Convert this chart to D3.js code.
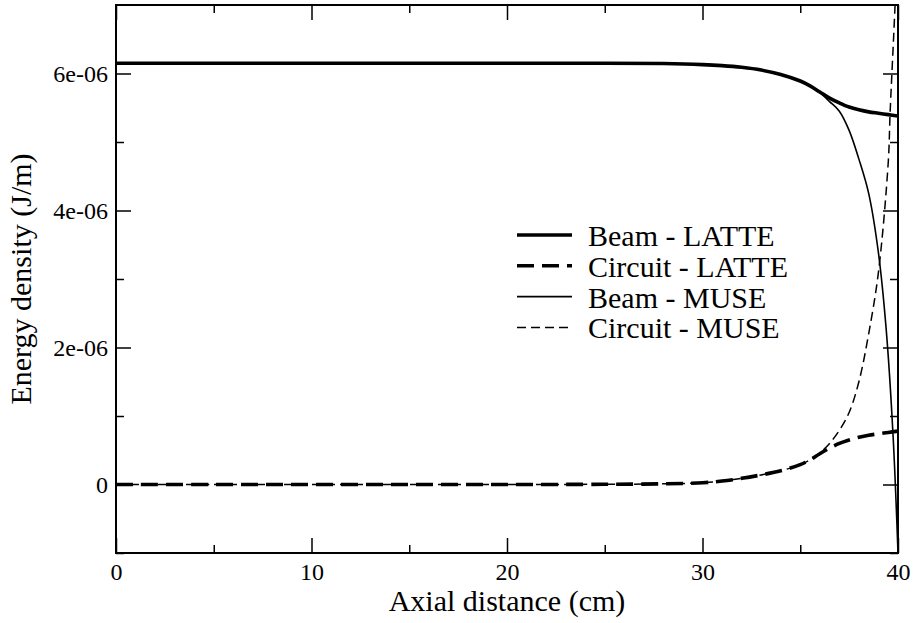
<!DOCTYPE html>
<html>
<head>
<meta charset="utf-8">
<script src="https://cdn.jsdelivr.net/npm/d3@7"></script>
<style>
  html, body { margin: 0; padding: 0; background: #fff; }
  svg { display: block; }
</style>
</head>
<body>
<svg id="chart" width="916" height="623"></svg>
<script>
// ---- data (values in J/m, x in cm) ----
const xBeamLatte = [0, 5, 10, 15, 20, 25, 28, 30, 31, 32, 33, 34, 35, 35.5, 36, 36.5, 37, 37.5, 38, 38.5, 39, 39.5, 40];
const beamLatte  = [6.15, 6.15, 6.15, 6.15, 6.15, 6.15, 6.145, 6.13, 6.115, 6.09, 6.05, 5.985, 5.89, 5.82, 5.73, 5.64, 5.57, 5.51, 5.47, 5.44, 5.42, 5.40, 5.38].map(v => v * 1e-6);

const xCircLatte = [0, 5, 10, 15, 20, 25, 28, 30, 31, 32, 33, 34, 35, 35.5, 36, 36.5, 37, 37.5, 38, 38.5, 39, 39.5, 40];
const circLatte  = [0, 0, 0, 0, 0, 0.003, 0.01, 0.025, 0.05, 0.09, 0.14, 0.2, 0.29, 0.36, 0.45, 0.53, 0.6, 0.65, 0.69, 0.72, 0.74, 0.76, 0.78].map(v => v * 1e-6);

const xBeamMuse  = [0, 5, 10, 15, 20, 25, 28, 30, 31, 32, 33, 34, 35, 35.5, 36, 36.5, 37, 37.5, 38, 38.5, 39, 39.4, 39.75, 40];
const beamMuse   = [6.15, 6.15, 6.15, 6.15, 6.15, 6.15, 6.145, 6.13, 6.115, 6.09, 6.05, 5.985, 5.89, 5.82, 5.72, 5.59, 5.45, 5.17, 4.75, 4.25, 3.38, 2.25, 0.7, -1.0].map(v => v * 1e-6);

const xCircMuse  = [0, 5, 10, 15, 20, 25, 28, 30, 31, 32, 33, 34, 35, 35.5, 36, 36.5, 37, 37.5, 38, 38.5, 39, 39.5, 39.6, 39.85, 40];
const circMuse   = [0, 0, 0, 0, 0, 0.003, 0.01, 0.025, 0.05, 0.09, 0.14, 0.2, 0.29, 0.36, 0.46, 0.6, 0.79, 1.05, 1.5, 2.2, 3.1, 4.7, 5.45, 7.0, 8.1].map(v => v * 1e-6);

const seriesNames = ["Beam - LATTE", "Circuit - LATTE", "Beam - MUSE", "Circuit - MUSE"];

const xMajorTicks = [0, 10, 20, 30, 40];
const xMinorTicks = [5, 15, 25, 35];
const yMajorTicks = [0, 2e-6, 4e-6, 6e-6];
const yMajorLabels = ["0", "2e-06", "4e-06", "6e-06"];
const yMinorTicks = [-1e-6, 1e-6, 3e-6, 5e-6];

const FONT = '"Liberation Serif", "Times New Roman", Times, "Nimbus Roman", Tinos, "DejaVu Serif", serif';

// ---- layout ----
const svg = d3.select("#chart");
const L = 116, R = 898, T = 5, B = 553;

const x = d3.scaleLinear().domain([0, 40]).range([L, R]);
const y = d3.scaleLinear().domain([-1e-6, 7e-6]).range([B, T]);

const styles = [
  { w: 3.6, dash: null },
  { w: 3.6, dash: "17,8" },
  { w: 1.6, dash: null },
  { w: 1.5, dash: "9,5" }
];

svg.append("defs").append("clipPath").attr("id", "clip")
  .append("rect").attr("x", L).attr("y", T).attr("width", R - L).attr("height", B - T);

const line = d3.line().x(d => x(d[0])).y(d => y(d[1])).curve(d3.curveCatmullRom.alpha(0.5));

const allSeries = [
  d3.zip(xBeamLatte, beamLatte),
  d3.zip(xCircLatte, circLatte),
  d3.zip(xBeamMuse, beamMuse),
  d3.zip(xCircMuse, circMuse)
];

const g = svg.append("g").attr("clip-path", "url(#clip)");
allSeries.forEach((s, i) => {
  g.append("path")
    .attr("d", line(s))
    .attr("fill", "none")
    .attr("stroke", "#000")
    .attr("stroke-width", styles[i].w)
    .attr("stroke-dasharray", styles[i].dash);
});

// ---- axes ----
function styleAxis(sel) {
  sel.attr("font-family", FONT).attr("font-size", 24);
  sel.select(".domain").remove();
  sel.selectAll(".tick line").attr("stroke", "#000").attr("stroke-width", 1.5);
  sel.selectAll(".tick text").attr("fill", "#000");
}

// bottom
svg.append("g").attr("transform", `translate(0,${B})`)
  .call(d3.axisBottom(x).tickValues(xMajorTicks).tickSize(-15).tickSizeOuter(0).tickPadding(0).tickFormat(d3.format("d")))
  .call(styleAxis)
  .call(s => s.selectAll(".tick text").attr("y", 27).attr("dy", null));
svg.append("g").attr("transform", `translate(0,${B})`)
  .call(d3.axisBottom(x).tickValues(xMinorTicks).tickSize(-8).tickSizeOuter(0).tickFormat(""))
  .call(styleAxis);
// top
svg.append("g").attr("transform", `translate(0,${T})`)
  .call(d3.axisTop(x).tickValues(xMajorTicks).tickSize(-15).tickSizeOuter(0).tickFormat(""))
  .call(styleAxis);
svg.append("g").attr("transform", `translate(0,${T})`)
  .call(d3.axisTop(x).tickValues(xMinorTicks).tickSize(-8).tickSizeOuter(0).tickFormat(""))
  .call(styleAxis);
// left
svg.append("g").attr("transform", `translate(${L},0)`)
  .call(d3.axisLeft(y).tickValues(yMajorTicks).tickSize(-15).tickSizeOuter(0).tickPadding(0)
    .tickFormat((d, i) => yMajorLabels[i]))
  .call(styleAxis)
  .call(s => s.selectAll(".tick text").attr("x", -8).attr("dy", "0.35em"));
svg.append("g").attr("transform", `translate(${L},0)`)
  .call(d3.axisLeft(y).tickValues(yMinorTicks).tickSize(-8).tickSizeOuter(0).tickFormat(""))
  .call(styleAxis);
// right
svg.append("g").attr("transform", `translate(${R},0)`)
  .call(d3.axisRight(y).tickValues(yMajorTicks).tickSize(-15).tickSizeOuter(0).tickFormat(""))
  .call(styleAxis);
svg.append("g").attr("transform", `translate(${R},0)`)
  .call(d3.axisRight(y).tickValues(yMinorTicks).tickSize(-8).tickSizeOuter(0).tickFormat(""))
  .call(styleAxis);

// frame
svg.append("rect").attr("x", L).attr("y", T).attr("width", R - L).attr("height", B - T)
  .attr("fill", "none").attr("stroke", "#000").attr("stroke-width", 2);

// axis titles
svg.append("text").attr("x", (L + R) / 2).attr("y", 611)
  .attr("font-family", FONT).attr("font-size", 30)
  .attr("text-anchor", "middle").text("Axial distance (cm)");
svg.append("text").attr("transform", `translate(31,${(T + B) / 2}) rotate(-90)`)
  .attr("font-family", FONT).attr("font-size", 30)
  .attr("text-anchor", "middle").text("Energy density (J/m)");

// legend
const legY0 = 235, legStep = 30.8;
seriesNames.forEach((name, i) => {
  const yy = legY0 + i * legStep;
  svg.append("line").attr("x1", 517).attr("x2", 572).attr("y1", yy).attr("y2", yy)
    .attr("stroke", "#000").attr("stroke-width", styles[i].w)
    .attr("stroke-dasharray", styles[i].dash);
  svg.append("text").attr("x", 588).attr("y", yy + 11)
    .attr("font-family", FONT).attr("font-size", 30).text(name);
});
</script>
</body>
</html>
